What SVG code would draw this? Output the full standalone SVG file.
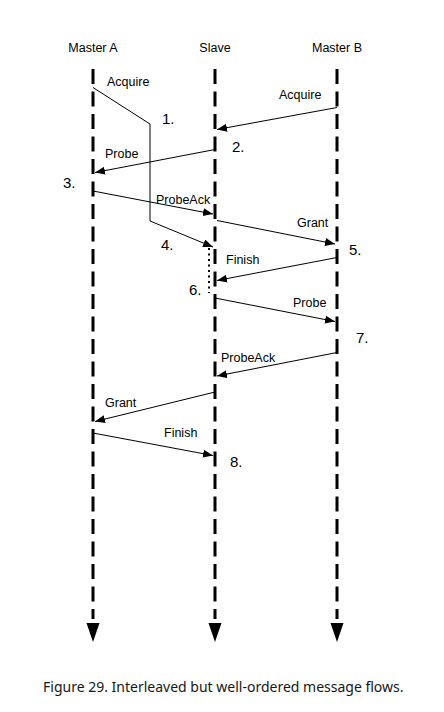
<svg xmlns="http://www.w3.org/2000/svg" width="444" height="712" viewBox="0 0 444 712">
<style>
.t{font-family:"Liberation Sans",Arial,sans-serif;font-size:12.5px;fill:#000}
.n{font-family:"Liberation Sans",Arial,sans-serif;font-size:15px;fill:#000}
.cap{font-family:"Noto Sans",sans-serif;font-size:14px;fill:#161616}
.life{stroke:#000;stroke-width:3;stroke-dasharray:15 7.5;fill:none}
.msg{stroke:#000;stroke-width:1;fill:none;marker-end:url(#ah)}
</style>
<defs>
<marker id="ah" markerUnits="userSpaceOnUse" markerWidth="12" markerHeight="10" refX="10" refY="4" orient="auto">
<path d="M0,0 L10,4 L0,8 Z" fill="#000"/>
</marker>
</defs>
<rect width="444" height="712" fill="#fff"/>
<g id="masterA">
<text class="t" x="93" y="52" text-anchor="middle">Master A</text>
<line class="life" x1="93" y1="69" x2="93" y2="619"/>
<path d="M86.5,623 L99.5,623 L93,642 Z" fill="#000"/>
</g>
<g id="slave">
<text class="t" x="215" y="52" text-anchor="middle">Slave</text>
<line class="life" x1="215" y1="69" x2="215" y2="619"/>
<path d="M208.5,623 L221.5,623 L215,642 Z" fill="#000"/>
<line x1="209" y1="248" x2="209" y2="293" stroke="#000" stroke-width="2" stroke-dasharray="2 3.5"/>
</g>
<g id="masterB">
<text class="t" x="337" y="52" text-anchor="middle">Master B</text>
<line class="life" x1="337" y1="69" x2="337" y2="619"/>
<path d="M330.5,623 L343.5,623 L337,642 Z" fill="#000"/>
</g>
<g id="connectors">
<polyline class="msg" points="93,87.5 150,124 150,221 213,247"/>
<line class="msg" x1="337" y1="107.5" x2="217" y2="129.5"/>
<line class="msg" x1="215" y1="149.5" x2="95" y2="172.5"/>
<line class="msg" x1="93" y1="191" x2="213" y2="214"/>
<line class="msg" x1="217" y1="220.5" x2="335" y2="244"/>
<line class="msg" x1="337" y1="257.5" x2="217" y2="280.5"/>
<line class="msg" x1="215" y1="298" x2="335" y2="321.5"/>
<line class="msg" x1="337" y1="352.5" x2="217" y2="376"/>
<line class="msg" x1="215" y1="392" x2="95" y2="421.5"/>
<line class="msg" x1="93" y1="433" x2="213" y2="455.5"/>
</g>
<g id="labels">
<text class="t" x="107" y="86">Acquire</text>
<text class="t" x="279" y="99">Acquire</text>
<text class="t" x="105" y="158">Probe</text>
<text class="t" x="156" y="204">ProbeAck</text>
<text class="t" x="297" y="227">Grant</text>
<text class="t" x="226" y="264">Finish</text>
<text class="t" x="293" y="307">Probe</text>
<text class="t" x="221" y="362">ProbeAck</text>
<text class="t" x="105" y="407">Grant</text>
<text class="t" x="164" y="437">Finish</text>
</g>
<g id="numbers">
<text class="n" x="162" y="124">1.</text>
<text class="n" x="232" y="152">2.</text>
<text class="n" x="63" y="188">3.</text>
<text class="n" x="161" y="250">4.</text>
<text class="n" x="349" y="255">5.</text>
<text class="n" x="189" y="295">6.</text>
<text class="n" x="356" y="343">7.</text>
<text class="n" x="230" y="467">8.</text>
</g>
<text class="cap" x="43" y="692">Figure 29. Interleaved but well-ordered message flows.</text>
</svg>
